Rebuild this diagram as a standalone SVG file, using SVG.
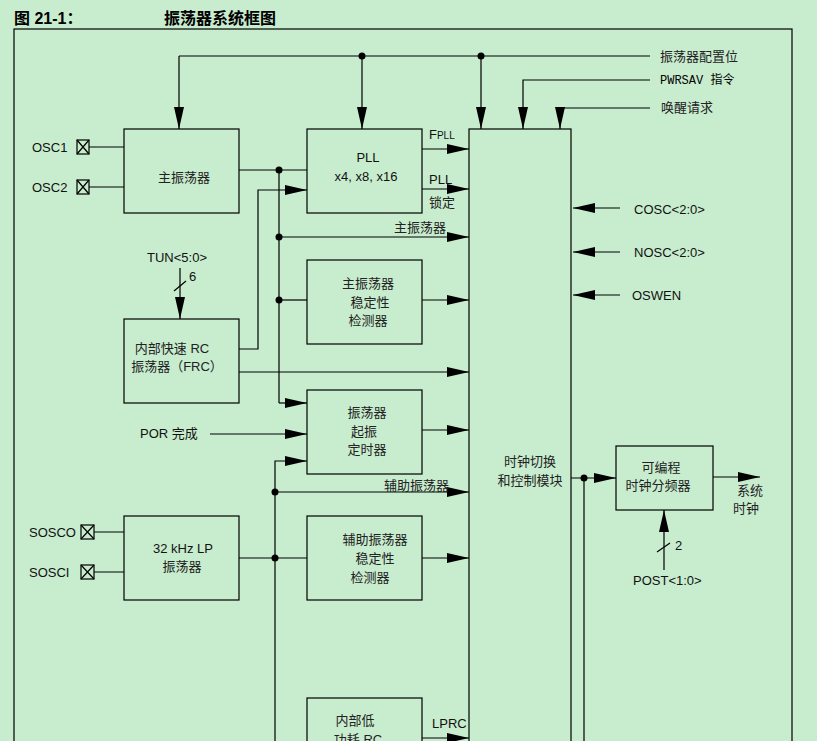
<svg xmlns="http://www.w3.org/2000/svg" width="817" height="741" viewBox="0 0 817 741">
<defs>
<marker id="b" markerWidth="22" markerHeight="10" refX="22" refY="5" orient="auto" markerUnits="userSpaceOnUse"><path d="M0,0 L22,5 L0,10 z" fill="#000"/></marker>
</defs>
<style>
.bx{fill:none;stroke:#000;stroke-width:1.2}
.ln{fill:none;stroke:#000;stroke-width:1.2}
.ar{fill:none;stroke:#000;stroke-width:1.2;marker-end:url(#b)}
.t{font-family:"Liberation Sans","Noto Sans CJK SC",sans-serif;font-size:13px;fill:#111}
.c{font-family:"Liberation Sans","Noto Sans CJK SC",sans-serif;font-size:13px;fill:#222}
.m{text-anchor:middle}
</style>
<rect width="817" height="741" fill="#c8ecce"/>
<text x="14" y="24" style="font-family:'Liberation Sans','Noto Sans CJK SC',sans-serif;font-size:16px;font-weight:bold">图 21-1：</text>
<text x="164" y="24" style="font-family:'Liberation Sans','Noto Sans CJK SC',sans-serif;font-size:16px;font-weight:bold">振荡器系统框图</text>
<rect x="14" y="29" width="778" height="720" class="bx"/>

<g id="connectors">
<path class="ln" d="M179,56 H650"/>
<path class="ar" d="M179,56 V129"/><path class="ar" d="M362,56 V129"/><path class="ar" d="M481,56 V129"/>
<circle cx="362" cy="56" r="3.5"/><circle cx="481" cy="56" r="3.5"/>
<path class="ar" d="M650,80 H523 V129"/>
<path class="ar" d="M650,108 H560 V129"/>
<path class="ln" d="M89,147 H124 M89,187 H124"/>
<path class="ln" d="M239,170 H307"/><circle cx="279" cy="170" r="3.5"/>
<path class="ln" d="M279,170 V403"/>
<path class="ar" d="M279,403 H307"/>
<path class="ar" d="M239,349 H258 V190 H307"/>
<path class="ar" d="M422,149 H469"/>
<path class="ar" d="M422,189 H469"/>
<path class="ar" d="M279,237 H469"/><circle cx="279" cy="237" r="3.5"/>
<path class="ln" d="M279,300 H307"/><circle cx="279" cy="300" r="3.5"/>
<path class="ar" d="M422,300 H469"/>
<path class="ar" d="M239,372 H469"/>
<path class="ar" d="M180,268 V319"/><path class="ln" d="M174,291 L186,281"/>
<path class="ar" d="M210,434 H307"/>
<path class="ar" d="M275,741 V461 H307"/>
<path class="ar" d="M422,430 H469"/>
<path class="ar" d="M275,492 H469"/><circle cx="275" cy="492" r="3.5"/>
<path class="ln" d="M94,532 H124 M94,572 H124"/>
<path class="ln" d="M239,558 H307"/><circle cx="275" cy="558" r="3.5"/>
<path class="ar" d="M422,558 H469"/>
<path class="ar" d="M422,738 H469"/>
<path class="ar" d="M620,208 H573"/><path class="ar" d="M620,252 H573"/><path class="ar" d="M620,295 H573"/>
<path class="ar" d="M571,478 H616"/><circle cx="584" cy="478" r="3.5"/>
<path class="ln" d="M584,478 V741"/>
<path class="ar" d="M713,477 H760"/>
<path class="ar" d="M664,570 V510"/><path class="ln" d="M657,552 L670,543"/>
</g>

<g id="osc1"><rect x="77" y="140" width="12" height="14" class="bx"/><path class="ln" d="M77,140 L89,154 M89,140 L77,154"/><text x="32" y="152" class="t">OSC1</text></g>
<g id="osc2"><rect x="77" y="180" width="12" height="14" class="bx"/><path class="ln" d="M77,180 L89,194 M89,180 L77,194"/><text x="32" y="192" class="t">OSC2</text></g>
<g id="sosco"><rect x="81" y="525" width="13" height="14" class="bx"/><path class="ln" d="M81,525 L94,539 M94,525 L81,539"/><text x="29" y="537" class="t">SOSCO</text></g>
<g id="sosci"><rect x="81" y="565" width="13" height="14" class="bx"/><path class="ln" d="M81,565 L94,579 M94,565 L81,579"/><text x="29" y="577" class="t">SOSCI</text></g>

<g id="primary"><rect x="124" y="129" width="115" height="84" class="bx"/><text x="184" y="182" class="c m">主振荡器</text></g>
<g id="pll"><rect x="307" y="129" width="115" height="84" class="bx"/><text x="368" y="162" class="t m">PLL</text><text x="366" y="181" class="t m">x4, x8, x16</text></g>
<g id="pmon"><rect x="307" y="260" width="115" height="84" class="bx"/><text x="368" y="288" class="c m">主振荡器</text><text x="370" y="307" class="c m">稳定性</text><text x="368" y="325" class="c m">检测器</text></g>
<g id="frc"><rect x="124" y="319" width="115" height="84" class="bx"/><text x="172" y="353" class="c m">内部快速 RC</text><text x="177" y="371" class="c m">振荡器（FRC）</text></g>
<g id="ost"><rect x="307" y="390" width="115" height="84" class="bx"/><text x="367" y="417" class="c m">振荡器</text><text x="364" y="436" class="c m">起振</text><text x="367" y="454" class="c m">定时器</text></g>
<g id="lp"><rect x="124" y="516" width="115" height="84" class="bx"/><text x="183" y="553" class="t m">32 kHz  LP</text><text x="182" y="571" class="c m">振荡器</text></g>
<g id="smon"><rect x="307" y="516" width="115" height="84" class="bx"/><text x="375" y="544" class="c m">辅助振荡器</text><text x="375" y="563" class="c m">稳定性</text><text x="370" y="582" class="c m">检测器</text></g>
<g id="lprc"><rect x="307" y="698" width="115" height="60" class="bx"/><text x="355" y="725" class="c m">内部低</text><text x="358" y="744" class="c m">功耗 RC</text></g>
<g id="ctrl"><rect x="469" y="129" width="102" height="620" class="bx"/><text x="530" y="466" class="c m">时钟切换</text><text x="530" y="485" class="c m">和控制模块</text></g>
<g id="div"><rect x="616" y="446" width="97" height="64" class="bx"/><text x="661" y="472" class="c m">可编程</text><text x="658" y="490" class="c m">时钟分频器</text></g>

<g id="labels">
<text x="660" y="61" class="c">振荡器配置位</text>
<text x="660" y="84" style="font-family:'Liberation Mono','Noto Sans CJK SC',monospace;font-size:12px">PWRSAV 指令</text>
<text x="661" y="112" class="c">唤醒请求</text>
<text x="429" y="139" class="t">F<tspan font-size="10">PLL</tspan></text>
<text x="429" y="184" class="t">PLL</text>
<text x="429" y="207" class="c">锁定</text>
<text x="394" y="232" class="c">主振荡器</text>
<text x="384" y="490" class="c">辅助振荡器</text>
<text x="432" y="728" class="t">LPRC</text>
<text x="147" y="262" class="t">TUN&lt;5:0&gt;</text>
<text x="189" y="281" class="t">6</text>
<text x="140" y="438" class="t">POR 完成</text>
<text x="634" y="214" class="t">COSC&lt;2:0&gt;</text>
<text x="634" y="257" class="t">NOSC&lt;2:0&gt;</text>
<text x="632" y="300" class="t">OSWEN</text>
<text x="675" y="550" class="t">2</text>
<text x="633" y="585" class="t">POST&lt;1:0&gt;</text>
<text x="737" y="495" class="c">系统</text>
<text x="733" y="513" class="c">时钟</text>
</g>
</svg>
